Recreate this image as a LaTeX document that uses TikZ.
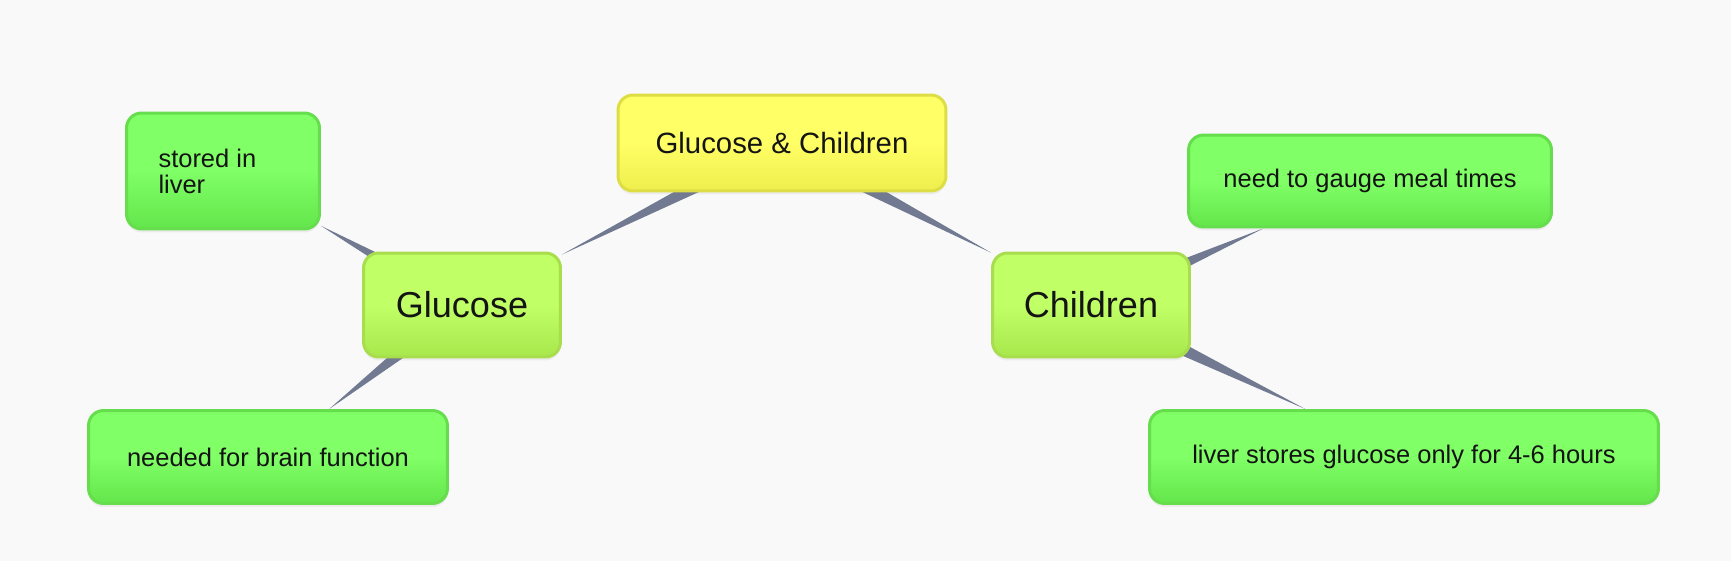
\documentclass[tikz,border=0pt]{standalone}
\usepackage{fontspec}
\setmainfont{Liberation Sans}
\usetikzlibrary{positioning,shadows,backgrounds,calc}

\definecolor{bgcol}{HTML}{F9F9FA}
\definecolor{linkcol}{HTML}{717A91}
\definecolor{leaftop}{HTML}{80FF66}
\definecolor{leafbottom}{HTML}{63E64B}
\definecolor{leafline}{HTML}{66DD4D}
\definecolor{midtop}{HTML}{C0FF66}
\definecolor{midbottom}{HTML}{A8E84D}
\definecolor{midline}{HTML}{A8DD4D}
\definecolor{maintop}{HTML}{FFFF66}
\definecolor{mainbottom}{HTML}{EEEE4D}
\definecolor{mainline}{HTML}{DDDD44}

\begin{document}
\begin{tikzpicture}[x=0.02cm, y=-0.02cm,
    box/.style={rectangle, rounded corners=0.3cm, line width=1.7pt, text=black!92,
        font=\fontsize{14.5}{14.8}\selectfont, align=center,
        drop shadow={shadow xshift=0pt, shadow yshift=-0.07cm, opacity=0.10}},
    leaf/.style={box, draw=leafline, top color=leaftop, bottom color=leafbottom, middle color=leaftop},
    topic/.style={box, draw=midline, top color=midtop, bottom color=midbottom, middle color=midtop,
        font=\fontsize{20.5}{22}\selectfont, minimum width=3.94cm, minimum height=2.08cm},
    link/.style={fill=linkcol}]

        \useasboundingbox (0,0) rectangle (1731,561);

        % central idea
        \node[box, draw=mainline, top color=maintop, bottom color=mainbottom, middle color=maintop,
              font=\fontsize{16.7}{18}\selectfont, minimum width=6.56cm, minimum height=1.92cm]
              (main) at (782,143) {Glucose \& Children};

        \node[topic] (glucose) at (462,305) {Glucose};
        \node[topic] (children) at (1091,305) {Children};

        % leaves
        \node[leaf, text width=2.58cm, inner xsep=0.64cm, align=flush left, minimum height=2.32cm]
              (stored) at (223,171) {stored in\\liver};
        \node[leaf, minimum width=7.18cm, minimum height=1.86cm] (brain) at (268,457) {needed for brain function};
        \node[leaf, minimum width=7.26cm, minimum height=1.84cm] (gauge) at (1370,181) {need to gauge meal times};
        \node[leaf, minimum width=10.18cm, minimum height=1.86cm] (hours) at (1404,457) {liver stores glucose only for 4-6 hours};

        \begin{scope}[on background layer]
            \fill[bgcol] (0,0) rectangle (1731,561);
            \foreach \src/\dst in {main/glucose, main/children, glucose/stored, glucose/brain, children/gauge, children/hours}{
                \path (\src) -- coordinate[pos=1] (tip) (\dst);
                \fill[link] ($(\src.center)!0.2cm!90:(tip)$) -- ($(\src.center)!0.2cm!-90:(tip)$) -- (tip) -- cycle;
            }
        \end{scope}

    \end{tikzpicture}
\end{document}
